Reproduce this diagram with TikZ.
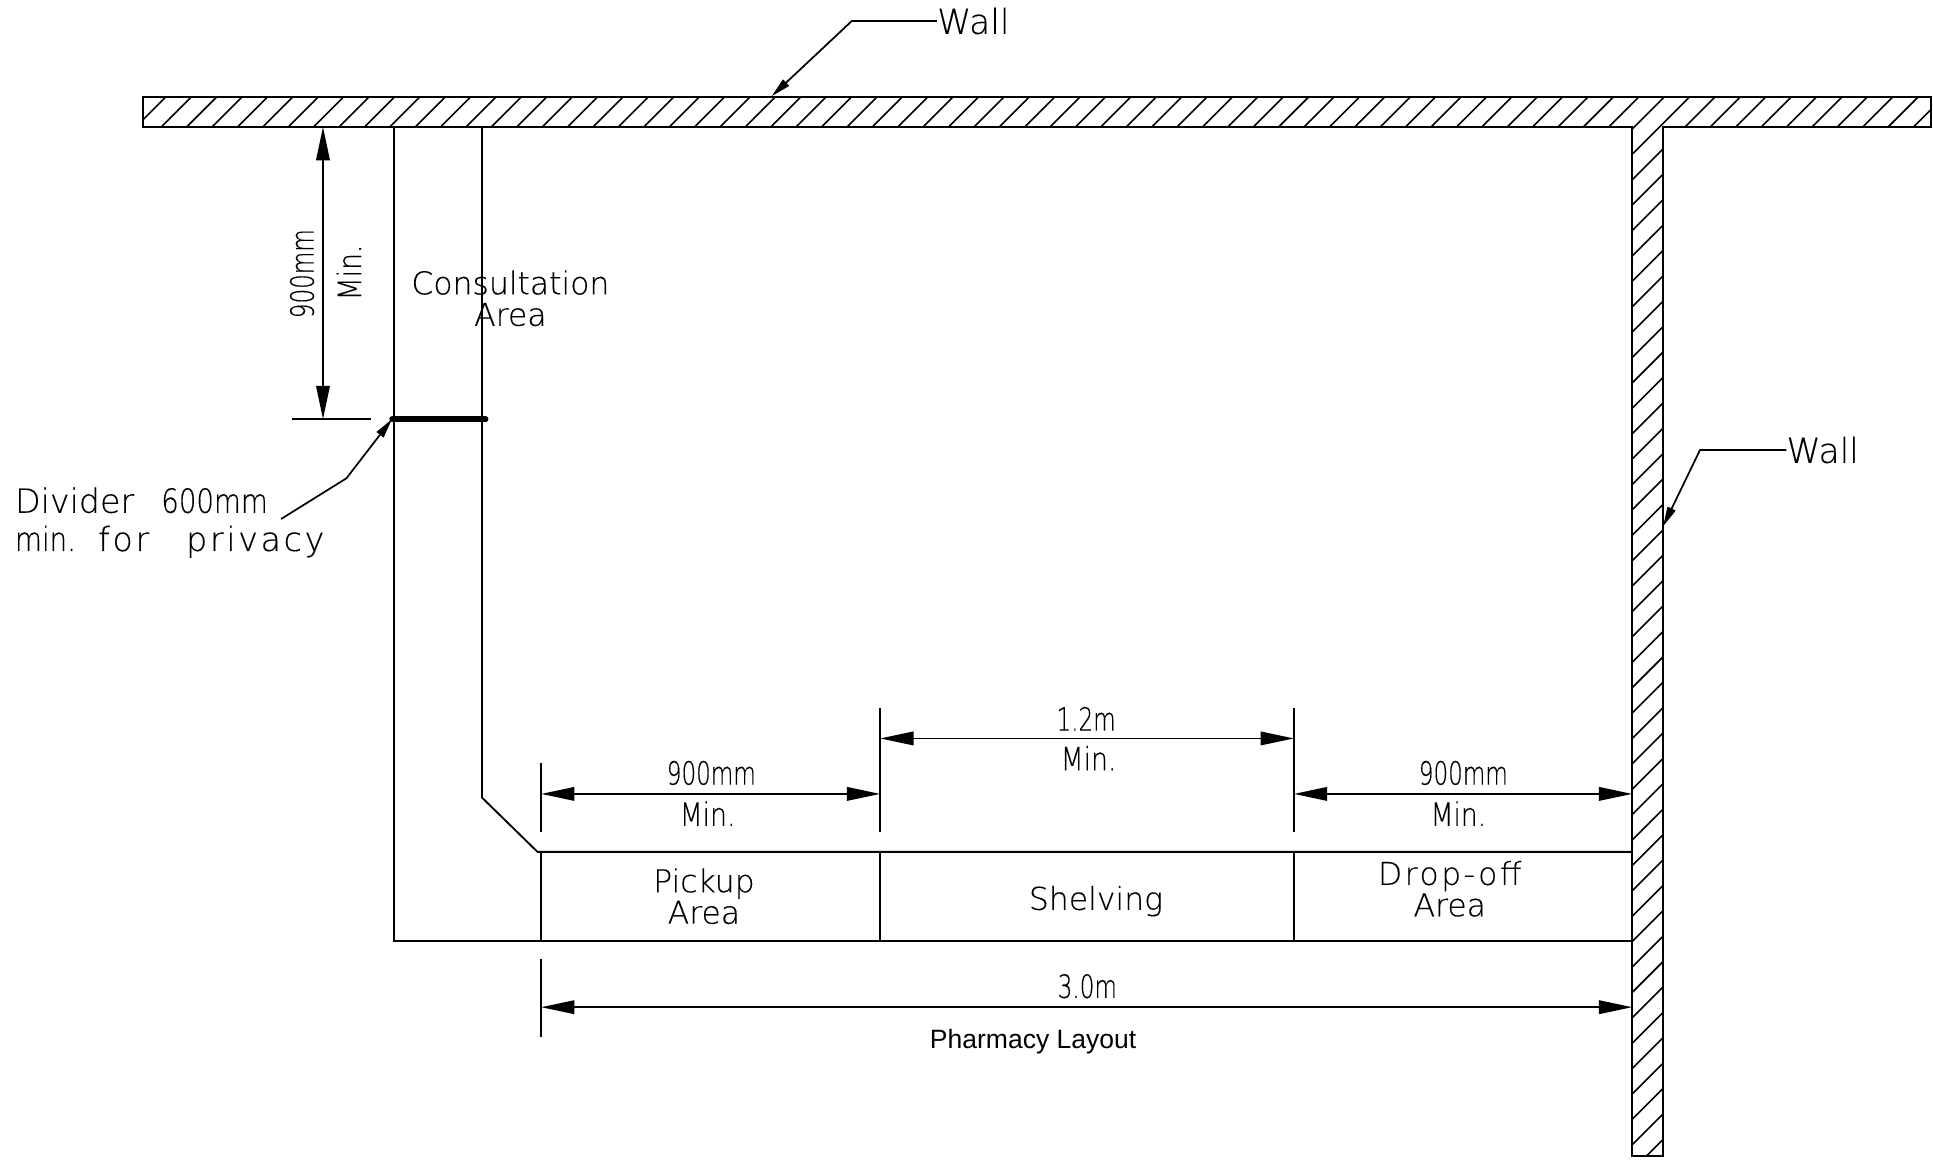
\documentclass[tikz,border=0pt]{standalone}
\usepackage{fontspec}
\setmainfont[FakeBold=0.25]{DejaVu Sans ExtraLight}
\newfontfamily\dimfont[FakeBold=0.25,FakeStretch=0.72]{DejaVu Sans ExtraLight}
\newfontfamily\minfont[FakeBold=0.25,FakeStretch=0.83]{DejaVu Sans ExtraLight}
\newfontfamily\widefont[FakeBold=0.25,LetterSpace=8]{DejaVu Sans ExtraLight}
\newfontfamily\captionfont{Liberation Sans}
\usetikzlibrary{arrows.meta}
\tikzstyle{wallline} = [line width=1.6pt,
                        draw=black]
\tikzstyle{hatch} = [line width=1.3pt,
                     draw=black]
\tikzstyle{planline} = [line width=1.5pt,
                        draw=black]
\tikzstyle{divider} = [line width=4.5pt,
                       line cap=round,
                       draw=black]
\tikzstyle{dimension} = [line width=1.4pt,
                         {Triangle[length=27pt,width=11pt]}-{Triangle[length=27pt,width=11pt]}]
\tikzstyle{leader} = [line width=1.4pt,
                      -{Triangle[length=16pt,width=7pt]}]
\tikzstyle{label} = [inner sep=0pt,
                     align=center,
                     font=\fontsize{25.5}{25.5}\selectfont]
\tikzstyle{note} = [inner sep=0pt,
                    align=left,
                    font=\fontsize{27}{31}\selectfont]
\tikzstyle{dimtext} = [inner sep=0pt,
                       font=\dimfont\fontsize{26}{26}\selectfont]
\tikzstyle{mintext} = [inner sep=0pt,
                       font=\minfont\fontsize{26}{26}\selectfont]

\begin{document}
\begin{tikzpicture}[x=1pt,y=-1pt]

    \useasboundingbox (0,0) rectangle (1568,941);

    % walls
    \begin{scope}
      \clip (116,79) -- (1566,79) -- (1566,103) -- (1349,103) -- (1349,938) -- (1324,938) -- (1324,103) -- (116,103) -- cycle;
      \foreach \i in {0,...,102}
        \draw [hatch] (192.6+20.6*\i,0) -- (192.6+20.6*\i-960,960);
    \end{scope}
    \draw [wallline] (116,79) -- (1566,79) -- (1566,103) -- (1349,103) -- (1349,938) -- (1324,938) -- (1324,103) -- (116,103) -- cycle;

    % counter and consultation area
    \draw [planline] (319.6,103) -- (319.6,763) -- (1324,763);
    \draw [planline] (391,103) -- (391,647) -- (436,691) -- (1324,691);
    \draw [planline] (439,691) -- (439,763);
    \draw [planline] (714,691) -- (714,763);
    \draw [planline] (1049.6,691) -- (1049.6,763);
    \draw [divider]  (318,340) -- (394,340);

    \node (consult) [label] at (414,242) {Consultation\\Area};
    \node (pickup)  [label] at (571,727) {Pickup\\Area};
    \node (shelf)   [label] at (889,731) {Shelving};
    \node (dropoff) [label] at (1176,721) {{\widefont Drop-off}\\Area};

    % dimension ticks
    \draw [hatch] (237,340) -- (301,340);
    \draw [hatch] (439,619) -- (439,675);
    \draw [hatch] (714,574) -- (714,675);
    \draw [hatch] (1049.6,574) -- (1049.6,675);
    \draw [hatch] (439,778) -- (439,841);

    \coordinate (ceil)  at (262,103);
    \coordinate (divd)  at (262,340);
    \coordinate (pickl) at (439,644);
    \coordinate (pickr) at (714,644);
    \coordinate (shelfl) at (714,599);
    \coordinate (shelfr) at (1049.6,599);
    \coordinate (dropl) at (1049.6,644);
    \coordinate (dropr) at (1324,644);
    \coordinate (allr)  at (1324,817);
    \coordinate (alll)  at (439,817);

    \draw [dimension] (ceil)   -- (divd);
    \draw [dimension] (pickl)  -- (pickr);
    \draw [dimension] (shelfl) -- (shelfr);
    \draw [dimension] (dropl)  -- (dropr);
    \draw [dimension] (alll)   -- (allr);

    \node (dimv)  [dimtext, rotate=90] at (245,222) {900mm};
    \node (minv)  [mintext, rotate=90] at (283,221) {Min.};
    \node (dima)  [dimtext] at (577,627) {900mm};
    \node (mina)  [mintext] at (574,660) {Min.};
    \node (dimb)  [dimtext] at (881,583) {1.2m};
    \node (minb)  [mintext] at (883,615) {Min.};
    \node (dimc)  [dimtext] at (1187,627) {900mm};
    \node (minc)  [mintext] at (1183,660) {Min.};
    \node (dimd)  [dimtext] at (882,800) {3.0m};
    \node (title) [inner sep=0pt, font=\captionfont\fontsize{21.5}{25}\selectfont] at (838,845) {Pharmacy Layout};

    % leaders
    \node (walltop)   [note, anchor=west, font=\fontsize{28}{31}\selectfont] at (760,17) {Wall};
    \node (wallright) [note, anchor=west, font=\fontsize{28}{31}\selectfont] at (1449,365) {Wall};
    \node (divnote)   [note, anchor=west] at (12,424) {Divider\hspace{22pt}{\minfont 600mm}\\{\minfont min.}\hspace{18pt}{\widefont for}\hspace{30pt}{\widefont privacy}};

    \coordinate (topbend)   at (691,17);
    \coordinate (toptip)    at (626,78);
    \coordinate (rightbend) at (1379,365);
    \coordinate (righttip)  at (1349,427);
    \coordinate (divstart)  at (228,421);
    \coordinate (divbend)   at (281,388);
    \coordinate (divtip)    at (318,340);

    \draw [leader] (walltop.west)   -- (topbend)   -- (toptip);
    \draw [leader] (wallright.west) -- (rightbend) -- (righttip);
    \draw [leader] (divstart)       -- (divbend)   -- (divtip);

\end{tikzpicture}
\end{document}
